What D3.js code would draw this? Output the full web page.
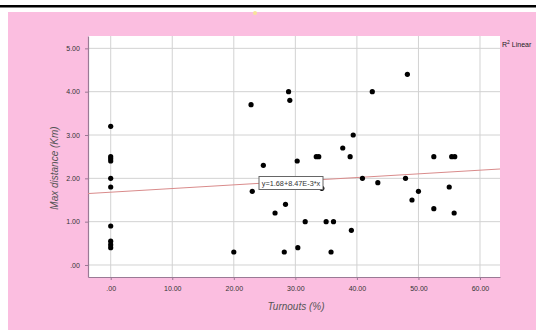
<!DOCTYPE html>
<html lang="en">
<head>
<meta charset="UTF-8">
<title>Max distance vs Turnouts</title>
<script src="https://d3js.org/d3.v7.min.js"></script>
<style>
    body { margin: 0; background: #fff; font-family: "Liberation Sans", Arial, sans-serif; }
    svg { display: block; }
    .tick text { font-size: 7px; fill: #333; }
    .axis-label { font-size: 10px; font-style: italic; fill: #555; }
</style>
</head>
<body>
<svg width="536" height="330"></svg>
<script>
// Data
const turnouts = [0, 0, 0, 0, 0, 0, 0, 0, 0, 0,
    20.0, 22.8, 23.0, 24.8, 26.7, 28.2, 28.4, 28.9, 29.1, 30.3, 30.4, 31.6,
    33.4, 33.8, 35.0, 34.3, 35.8, 36.2, 37.7, 38.9, 39.1, 39.4, 40.9, 42.5,
    43.4, 47.9, 48.2, 48.95, 50.0, 52.5, 52.5, 55.0, 55.4, 55.8, 55.9];
const maxDistance = [3.2, 2.5, 2.45, 2.4, 2.0, 1.8, 0.9, 0.55, 0.47, 0.4,
    0.3, 3.7, 1.7, 2.3, 1.2, 0.3, 1.4, 4.0, 3.8, 2.4, 0.4, 1.0,
    2.5, 2.5, 1.0, 1.77, 0.3, 1.0, 2.7, 2.5, 0.8, 3.0, 2.0, 4.0,
    1.9, 2.0, 4.4, 1.5, 1.7, 2.5, 1.3, 1.8, 2.5, 1.2, 2.5];
const xTicks = [0, 10, 20, 30, 40, 50, 60];
const yTicks = [0, 1, 2, 3, 4, 5];
const fitIntercept = 1.68;
const fitSlope = 8.47e-3;
const fitLabel = "y=1.68+8.47E-3*x";

const svg = d3.select("svg");
const plot = { left: 88, right: 500, top: 36, bottom: 277 };

// page decoration: top rule and pink frame
svg.append("rect").attr("x", 0).attr("y", 5).attr("width", 536).attr("height", 2.5).attr("fill", "#000");
svg.append("rect").attr("x", 8).attr("y", 12).attr("width", 528).attr("height", 318).attr("fill", "#fbbee0");
svg.append("circle").attr("cx", 255).attr("cy", 13).attr("r", 2).attr("fill", "#f7e39a");

const x = d3.scaleLinear().domain([-3.69, 63.25]).range([plot.left, plot.right]);
const y = d3.scaleLinear().domain([-0.277, 5.285]).range([plot.bottom, plot.top]);

svg.append("rect")
    .attr("x", plot.left).attr("y", plot.top)
    .attr("width", plot.right - plot.left).attr("height", plot.bottom - plot.top)
    .attr("fill", "#fff");

// grid
svg.append("g").selectAll("line").data(xTicks).join("line")
    .attr("x1", d => x(d)).attr("x2", d => x(d))
    .attr("y1", plot.top).attr("y2", plot.bottom)
    .attr("stroke", "#d2d2d2").attr("stroke-width", 1);
svg.append("g").selectAll("line").data(yTicks).join("line")
    .attr("x1", plot.left).attr("x2", plot.right)
    .attr("y1", d => y(d)).attr("y2", d => y(d))
    .attr("stroke", "#d2d2d2").attr("stroke-width", 1);

// axes
const fmt = d => d === 0 ? ".00" : d3.format(".2f")(d);
const xAxis = svg.append("g")
    .attr("transform", `translate(0,${plot.bottom})`)
    .call(d3.axisBottom(x).tickValues(xTicks).tickFormat(fmt).tickSize(3).tickSizeOuter(0));
const yAxis = svg.append("g")
    .attr("transform", `translate(${plot.left},0)`)
    .call(d3.axisLeft(y).tickValues(yTicks).tickFormat(fmt).tickSize(3).tickSizeOuter(0));
[xAxis, yAxis].forEach(a => {
    a.select(".domain").attr("stroke", "#9a7a95").attr("stroke-width", 1.2);
    a.selectAll(".tick line").attr("stroke", "#9a7a95");
    a.selectAll(".tick text").attr("font-family", "Liberation Sans, Arial, sans-serif");
});
xAxis.selectAll(".tick text").attr("dy", "1.1em");
yAxis.selectAll(".tick text").attr("dx", "-0.3em");

// fit line
const [x0, x1] = x.domain();
svg.append("line")
    .attr("x1", x(x0)).attr("y1", y(fitIntercept + fitSlope * x0))
    .attr("x2", x(x1)).attr("y2", y(fitIntercept + fitSlope * x1))
    .attr("stroke", "#d98b8b").attr("stroke-width", 1);

// points
svg.append("g").selectAll("circle").data(turnouts.map((t, i) => [t, maxDistance[i]])).join("circle")
    .attr("cx", d => x(d[0])).attr("cy", d => y(d[1]))
    .attr("r", 2.6).attr("fill", "#000");

// fit label box
svg.append("rect").attr("x", 259).attr("y", 176.5).attr("width", 64).attr("height", 13)
    .attr("fill", "#fff").attr("stroke", "#666").attr("stroke-width", 1);
svg.append("text").attr("x", 291).attr("y", 186).attr("text-anchor", "middle")
    .attr("font-size", 7.3).attr("fill", "#333").text(fitLabel);

// legend
const leg = svg.append("text").attr("x", 502).attr("y", 47).attr("font-size", 7).attr("fill", "#222");
leg.append("tspan").text("R");
leg.append("tspan").attr("dy", -3).attr("font-size", 5).text("2");
leg.append("tspan").attr("dy", 3).text(" Linear");

// axis labels
svg.append("text").attr("class", "axis-label")
    .attr("x", 296).attr("y", 310).attr("text-anchor", "middle").text("Turnouts (%)");
svg.append("text").attr("class", "axis-label")
    .attr("transform", "translate(58,168) rotate(-90)")
    .attr("text-anchor", "middle").text("Max distance (Km)");
</script>
</body>
</html>
